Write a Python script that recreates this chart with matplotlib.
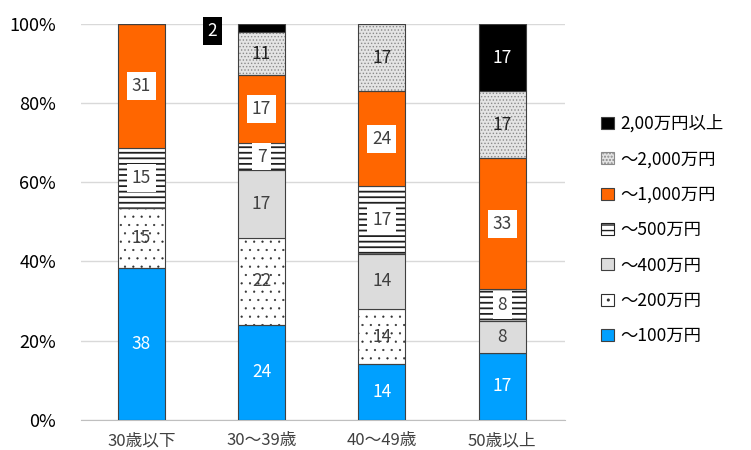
import numpy as np
import matplotlib
matplotlib.use("Agg")
from matplotlib import pyplot as plt

plt.rcParams['font.family'] = ['Noto Sans CJK JP', 'DejaVu Sans']

categories = ['30歳以下', '30〜39歳', '40〜49歳', '50歳以上']
series = ['〜100万円', '〜200万円', '〜400万円', '〜500万円',
          '〜1,000万円', '〜2,000万円', '2,00万円以上']
# percent of each age group (as labelled)
v100 = [38, 24, 14, 17]
v200 = [15, 22, 14, 0]
v400 = [0, 17, 14, 8]
v500 = [15, 7, 17, 8]
v1000 = [31, 17, 24, 33]
v2000 = [0, 11, 17, 17]
vover = [0, 2, 0, 17]

data = np.array([v100, v200, v400, v500, v1000, v2000, vover], dtype=float)
share = data / data.sum(axis=0) * 100

# style per series: face, hatch, hatch colour, hatch width, label colour, label box
styles = [
    ('#00A0FF', None, None, 0, 'white', None),
    ('white', '..', '#303030', 0.35, '#404040', None),
    ('#DCDCDC', None, None, 0, '#404040', None),
    ('white', '---', '#202020', 1.3, '#404040', 'white'),
    ('#FF6600', None, None, 0, '#404040', 'white'),
    ('#E4E4E4', '.....', '#8A8A8A', 0.6, '#202020', None),
    ('black', None, None, 0, 'white', None),
]

fig = plt.figure(figsize=(7.51, 4.5), dpi=100)
ax = fig.add_axes([0.108, 0.067, 0.644, 0.88])

x = np.arange(len(categories))
w = 0.39
bottom = np.zeros(len(categories))
handles = []
for i, name in enumerate(series):
    face, hatch, hcol, hlw, tcol, box = styles[i]
    if hatch:
        with plt.rc_context({'hatch.linewidth': hlw}):
            ax.bar(x, share[i], w, bottom=bottom, color=face, hatch=hatch,
                   edgecolor=hcol, linewidth=0, zorder=2)
            handles.append(plt.Rectangle((0, 0), 1, 1, facecolor=face,
                                         hatch=hatch, edgecolor=hcol,
                                         linewidth=0.8))
        ax.bar(x, share[i], w, bottom=bottom, fill=False,
               edgecolor='#404040', linewidth=0.8, zorder=3)
    else:
        ax.bar(x, share[i], w, bottom=bottom, color=face,
               edgecolor='#404040', linewidth=0.8, zorder=3)
        handles.append(plt.Rectangle((0, 0), 1, 1, facecolor=face,
                                     edgecolor='#404040', linewidth=0.8))
    for j in range(len(categories)):
        if data[i, j] == 0:
            continue
        cy = bottom[j] + share[i, j] / 2
        cx = x[j]
        bb = None
        col = tcol
        if share[i, j] < 4:
            # too small: label outside to the left
            cx = x[j] - 0.41
            cy = bottom[j] + share[i, j] / 2 - 0.8
            bb = dict(facecolor='black', edgecolor='none', pad=3.5)
            col = 'white'
        elif box:
            bb = dict(facecolor=box, edgecolor='none', pad=3.5)
        ax.text(cx, cy, '%d' % data[i, j], ha='center', va='center',
                fontsize=12.5, color=col, bbox=bb, zorder=5)
    bottom += share[i]

ax.set_xlim(-0.5, 3.52)
ax.set_ylim(0, 100)
ax.set_yticks(range(0, 101, 20))
ax.set_yticklabels(['%d%%' % t for t in range(0, 101, 20)])
ax.set_xticks(x)
ax.set_xticklabels(categories)
ax.grid(axis='y', color='#D9D9D9', linewidth=1, zorder=0)
ax.set_axisbelow(True)
for s in ['top', 'right', 'left']:
    ax.spines[s].set_visible(False)
ax.spines['bottom'].set_color('#BFBFBF')
ax.tick_params(axis='both', length=0, labelsize=12, colors='#404040')
ax.tick_params(axis='y', pad=18, labelcolor='black', labelsize=13)
ax.tick_params(axis='x', pad=9)

leg = fig.legend(handles[::-1], series[::-1], loc='upper left',
                 bbox_to_anchor=(0.78, 0.78), frameon=False, fontsize=12.5,
                 handlelength=0.7, handleheight=0.7, handletextpad=0.4,
                 labelspacing=1.0)

fig.savefig('out.png', dpi=100)
